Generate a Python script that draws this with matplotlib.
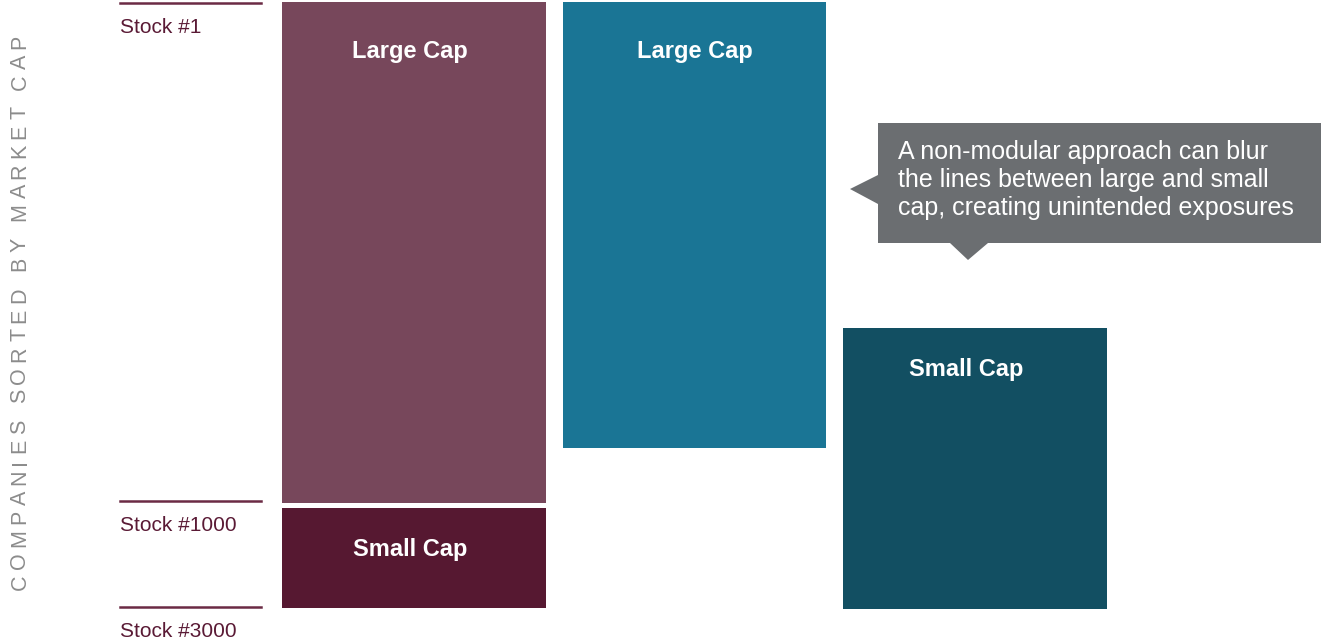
import matplotlib.pyplot as plt
from matplotlib.patches import Polygon

plt.rcParams["font.family"] = ["Liberation Sans", "DejaVu Sans"]

# ranked universe: where each reference stock sits on the 0-100 scale
stock_labels = ["Stock #1", "Stock #1000", "Stock #3000"]
stock_pos = [0, 82.5, 100]

# blocks: column, top and bottom on the rank scale
block_labels = ["Large Cap", "Small Cap", "Large Cap", "Small Cap"]
block_col = [0, 0, 1, 2]
block_top = [-0.2, 83.6, -0.2, 53.8]
block_bottom = [82.8, 100.2, 73.7, 100.3]
block_colors = ["#77475b", "#561831", "#1a7595", "#124f62"]

callout_lines = [
    "A non-modular approach can blur",
    "the lines between large and small",
    "cap, creating unintended exposures",
]

W, H = 1321, 642
fig = plt.figure(figsize=(W / 100, H / 100), dpi=100)
ax = fig.add_axes([0, 0, 1, 1])
ax.set_xlim(-414 / 280.5, (W - 414) / 280.5)
ax.set_ylim((H - 3) / 6.04, -3 / 6.04)
ax.axis("off")

heights = [b - t for t, b in zip(block_top, block_bottom)]
ax.bar(block_col, heights, bottom=block_top, width=0.94, color=block_colors,
       align="center", zorder=2)

# labels sit a little left of centre in the original
label_shift = {0: -0.015, 1: 0.0, 2: -0.03}
for lab, c, t in zip(block_labels, block_col, block_top):
    y = t + (8.15 if lab.startswith("Large") else 6.8)
    ax.text(c + label_shift[c], y, lab, ha="center", va="center",
            color="white", fontsize=17, fontweight="bold", zorder=3)

# reference lines and stock labels on the left
for lab, p in zip(stock_labels, stock_pos):
    ax.axhline(p, xmin=120 / W, xmax=261 / W, color="#6b2a44", lw=1.8)
    ax.text(120 / W, p + 2.5, lab, transform=ax.get_yaxis_transform(),
            ha="left", va="top", color="#5a1a35", fontsize=15)


def fx(px):
    return px / W


def fy(py):
    return 1 - py / H


# callout bubble (figure pixels, measured from the top-left)
bubble = [(878, 123), (1321, 123), (1321, 243), (988, 243), (968, 260),
          (950, 243), (878, 243), (878, 204), (850, 189), (878, 175)]
fig.patches.append(Polygon([(fx(x), fy(y)) for x, y in bubble], closed=True,
                           transform=fig.transFigure, facecolor="#6b6e71",
                           edgecolor="none", zorder=5))
fig.text(fx(898), fy(180), "\n".join(callout_lines), ha="left", va="center",
         color="white", fontsize=18, linespacing=1.22, zorder=6)

# vertical axis title with wide letter spacing, drawn one glyph at a time
title = "COMPANIES SORTED BY MARKET CAP"
fig.canvas.draw()
renderer = fig.canvas.get_renderer()
y = 590
for ch in title:
    t = fig.text(fx(20), fy(y), ch, rotation=90, ha="left", va="center",
                 color="#8c8c8c", fontsize=15.5, rotation_mode="anchor")
    bb = t.get_window_extent(renderer)
    y -= bb.height + 5.2

fig.savefig("out.png", dpi=100)
